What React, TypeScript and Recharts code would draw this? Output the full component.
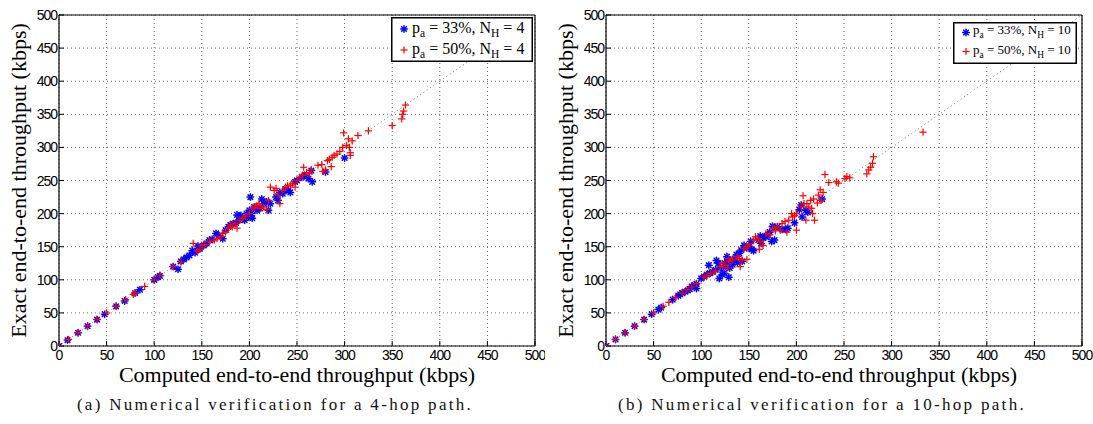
import React from 'react';
import { ScatterChart, Scatter, XAxis, YAxis, CartesianGrid, ReferenceLine, Legend } from 'recharts';

// ---------- shared axis / text data ----------
const AXIS_TICKS = [0, 50, 100, 150, 200, 250, 300, 350, 400, 450, 500];
const AXIS_DOMAIN: [number, number] = [0, 500];
const X_LABEL = 'Computed end-to-end throughput (kbps)';
const Y_LABEL = 'Exact end-to-end throughput (kbps)';
const ATTACK_PROBS = ['33%', '50%'];
const HOP_COUNTS = [4, 10];
const CAPTIONS = [
  '(a) Numerical verification for a 4-hop path.',
  '(b) Numerical verification for a 10-hop path.',
];

// ---------- 4-hop path, p_a = 33% ----------
const hop4P33Computed = [0, 9, 20, 30, 40, 48, 60, 69, 80, 85, 100, 104, 106, 120, 125, 128, 131, 134, 137, 140, 143, 146, 148, 152, 155, 158, 161, 165, 168, 172, 175, 178, 180, 183, 186, 187, 189, 191, 193, 195, 197, 199, 200, 201, 202, 203, 205, 208, 211, 213, 215, 218, 220, 222, 228, 230, 232, 235, 238, 241, 243, 248, 250, 255, 258, 262, 265, 266, 280, 300];
const hop4P33Exact = [0, 9, 20, 30, 40, 48, 60, 68, 80, 85, 100, 104, 106, 120, 116, 128, 131, 134, 137, 144, 141, 151, 147, 152, 155, 160, 161, 170, 167, 162, 175, 180, 183, 185, 186, 198, 190, 197, 192, 190, 200, 195, 205, 225, 200, 193, 210, 205, 208, 222, 215, 218, 205, 215, 225, 220, 232, 230, 237, 235, 232, 248, 250, 255, 258, 253, 265, 248, 263, 284];

// ---------- 4-hop path, p_a = 50% ----------
const hop4P50Computed = [0, 10, 20, 30, 40, 50, 60, 70, 78, 80, 90, 100, 106, 120, 128, 141, 145, 148, 150, 153, 158, 163, 166, 170, 172, 175, 178, 180, 182, 185, 187, 190, 193, 196, 200, 203, 206, 208, 210, 212, 215, 218, 220, 222, 226, 228, 230, 232, 235, 238, 240, 243, 245, 248, 250, 253, 256, 257, 260, 263, 265, 272, 276, 277, 280, 282, 284, 286, 287, 289, 292, 295, 298, 299, 302, 304, 305, 306, 306, 308, 314, 325, 350, 360, 361, 362, 364];
const hop4P50Exact = [0, 10, 20, 30, 40, 50, 60, 70, 78, 80, 90, 100, 107, 120, 127, 155, 143, 146, 152, 153, 158, 160, 162, 165, 170, 172, 178, 183, 180, 185, 178, 190, 193, 196, 200, 208, 210, 212, 215, 208, 210, 206, 220, 240, 235, 238, 228, 215, 235, 240, 242, 243, 245, 240, 250, 255, 258, 270, 262, 260, 266, 273, 274, 264, 266, 280, 282, 271, 285, 288, 290, 294, 300, 322, 303, 313, 300, 292, 288, 310, 318, 325, 333, 343, 350, 355, 364];

// ---------- 10-hop path, p_a = 33% ----------
const hop10P33Computed = [0, 10, 20, 30, 40, 48, 55, 58, 70, 76, 78, 80, 83, 86, 88, 90, 93, 95, 95, 100, 103, 106, 108, 109, 112, 115, 116, 118, 119, 120, 122, 124, 125, 126, 127, 128, 129, 130, 132, 133, 135, 137, 138, 140, 142, 143, 145, 148, 150, 152, 153, 155, 160, 162, 163, 165, 168, 170, 172, 174, 175, 177, 178, 180, 185, 189, 191, 198, 203, 205, 206, 210, 212, 227];
const hop10P33Exact = [0, 10, 20, 30, 40, 48, 55, 58, 70, 76, 78, 80, 82, 84, 86, 90, 92, 94, 87, 102, 105, 108, 122, 110, 112, 115, 129, 125, 102, 118, 108, 110, 125, 120, 135, 130, 104, 118, 128, 123, 132, 138, 126, 140, 145, 128, 152, 148, 150, 158, 146, 144, 160, 166, 155, 163, 165, 168, 172, 158, 181, 160, 178, 180, 176, 176, 178, 186, 206, 213, 195, 205, 202, 222];

// ---------- 10-hop path, p_a = 50% ----------
const hop10P50Computed = [0, 10, 20, 30, 40, 50, 60, 66, 73, 80, 85, 90, 95, 103, 106, 110, 115, 120, 122, 125, 128, 129, 130, 133, 138, 140, 141, 143, 145, 148, 148, 150, 155, 157, 160, 161, 162, 165, 168, 172, 175, 178, 180, 183, 185, 188, 190, 192, 195, 196, 198, 200, 200, 205, 207, 208, 210, 211, 213, 215, 216, 217, 218, 219, 222, 223, 225, 226, 228, 230, 234, 242, 244, 251, 253, 256, 274, 276, 278, 280, 281, 333];
const hop10P50Exact = [0, 10, 20, 30, 40, 50, 60, 66, 73, 80, 85, 89, 94, 104, 106, 110, 113, 120, 125, 122, 118, 132, 128, 130, 135, 132, 120, 130, 147, 131, 150, 152, 160, 165, 162, 146, 158, 152, 170, 168, 178, 174, 180, 175, 185, 188, 172, 190, 200, 195, 197, 175, 200, 210, 227, 215, 190, 215, 210, 220, 208, 200, 222, 190, 216, 228, 236, 220, 232, 259, 247, 248, 246, 253, 256, 254, 260, 266, 270, 276, 286, 323];

const toPoints = (xs: number[], ys: number[]) => xs.map((x, i) => ({ computed: x, exact: ys[i] }));

// ---------- marker shapes ----------
const Asterisk = (props: any) => {
  const { cx, cy } = props;
  if (cx == null || cy == null) return null;
  const r = 3.3;
  const d = r * 0.7071;
  return (
    <g stroke="#0000ff" strokeWidth={1.5} strokeLinecap="round">
      <line x1={cx - r} y1={cy} x2={cx + r} y2={cy} />
      <line x1={cx} y1={cy - r} x2={cx} y2={cy + r} />
      <line x1={cx - d} y1={cy - d} x2={cx + d} y2={cy + d} />
      <line x1={cx - d} y1={cy + d} x2={cx + d} y2={cy - d} />
    </g>
  );
};

const Plus = (props: any) => {
  const { cx, cy } = props;
  if (cx == null || cy == null) return null;
  const r = 3.6;
  return (
    <g stroke="#ff0000" strokeWidth={1.2}>
      <line x1={cx - r} y1={cy} x2={cx + r} y2={cy} />
      <line x1={cx} y1={cy - r} x2={cx} y2={cy + r} />
    </g>
  );
};

// ---------- ticks ----------
const TICK_FONT = 'Liberation Sans, Arial, sans-serif';
const BottomTick = (props: any) => (
  <text x={props.x} y={props.y} dy={12} textAnchor="middle" fontFamily={TICK_FONT} fontSize={14} fill="#000" style={{ letterSpacing: '-1px' }}>
    {props.payload.value}
  </text>
);
const LeftTick = (props: any) => (
  <text x={props.x} y={props.y} dy={5} textAnchor="end" fontFamily={TICK_FONT} fontSize={14} fill="#000" style={{ letterSpacing: '-1px' }}>
    {props.payload.value}
  </text>
);

const SERIF = 'Liberation Serif, Times New Roman, serif';

type LegendCfg = { x: number; y: number; w: number; h: number; font: number; base: number[]; mark: number[]; mx: number; tx: number };

const LegendBox = ({ payload, cfg, hops }: { payload: any[]; cfg: LegendCfg; hops: number }) => {
  const sub = cfg.font * 0.72;
  const shift = cfg.font * 0.28;
  return (
    <svg width={cfg.w} height={cfg.h} style={{ display: 'block' }}>
      <rect x={0.75} y={0.75} width={cfg.w - 1.5} height={cfg.h - 1.5} fill="#fff" stroke="#000" strokeWidth={1.5} />
      {(payload || []).map((entry: any, i: number) => (
        <g key={i}>
          {i === 0 ? <Asterisk cx={cfg.mx} cy={cfg.mark[i]} /> : <Plus cx={cfg.mx} cy={cfg.mark[i]} />}
          <text x={cfg.tx} y={cfg.base[i]} fontFamily={SERIF} fontSize={cfg.font} fill="#000">
            p
            <tspan fontSize={sub} dy={shift}>a</tspan>
            <tspan dy={-shift}>{` = ${ATTACK_PROBS[i]}, N`}</tspan>
            <tspan fontSize={sub} dy={shift}>H</tspan>
            <tspan dy={-shift}>{` = ${hops}`}</tspan>
          </text>
        </g>
      ))}
    </svg>
  );
};

type PanelProps = {
  left: number;
  width: number;
  plotLeft: number;
  plotRight: number;
  blue: { computed: number; exact: number }[];
  red: { computed: number; exact: number }[];
  hops: number;
  caption: string;
  captionX: number;
  xLabelShift: number;
  yLabelX: number;
  legend: LegendCfg;
};

const HEIGHT = 424;
const PLOT_TOP = 15;
const PLOT_BOTTOM = 346;

const Panel = (p: PanelProps) => {
  const xAxisHeight = 40;
  const margin = { top: PLOT_TOP - 1, right: p.width - p.plotRight - 1, bottom: HEIGHT - PLOT_BOTTOM - xAxisHeight, left: 0 };
  const plotMidX = (p.plotLeft + p.plotRight) / 2 + p.xLabelShift;
  const plotMidY = (PLOT_TOP + PLOT_BOTTOM) / 2;
  return (
    <div style={{ position: 'absolute', left: p.left, top: 0 }}>
      <ScatterChart width={p.width} height={HEIGHT} margin={margin}>
        <CartesianGrid xAxisId="b" yAxisId="l" stroke="#666" strokeDasharray="1 3" horizontalValues={AXIS_TICKS} verticalValues={AXIS_TICKS} />
        <XAxis
          xAxisId="b"
          type="number"
          dataKey="computed"
          domain={AXIS_DOMAIN}
          ticks={AXIS_TICKS}
          interval={0}
          allowDataOverflow
          height={xAxisHeight}
          tickSize={-5}
          tickMargin={7}
          axisLine={{ stroke: '#000', strokeWidth: 1.2 }}
          tickLine={{ stroke: '#000' }}
          tick={<BottomTick />}
          label={{
            content: () => (
              <g>
                <text x={plotMidX} y={382} textAnchor="middle" fontFamily={SERIF} fontSize={22} fill="#000">{X_LABEL}</text>
                <text x={p.captionX} y={410} textAnchor="middle" fontFamily={SERIF} fontSize={17} fill="#111" style={{ letterSpacing: '2.3px' }}>{p.caption}</text>
              </g>
            ),
          }}
        />
        <XAxis
          xAxisId="t"
          orientation="top"
          type="number"
          domain={AXIS_DOMAIN}
          ticks={AXIS_TICKS}
          interval={0}
          allowDataOverflow
          height={1}
          tickSize={-5}
          axisLine={{ stroke: '#000', strokeWidth: 1.2 }}
          tickLine={{ stroke: '#000' }}
          tick={false}
        />
        <YAxis
          yAxisId="l"
          type="number"
          dataKey="exact"
          domain={AXIS_DOMAIN}
          ticks={AXIS_TICKS}
          interval={0}
          allowDataOverflow
          width={p.plotLeft}
          tickSize={-5}
          tickMargin={7}
          axisLine={{ stroke: '#000', strokeWidth: 1.2 }}
          tickLine={{ stroke: '#000' }}
          tick={<LeftTick />}
          label={{
            content: () => (
              <text x={p.yLabelX} y={plotMidY} transform={`rotate(-90, ${p.yLabelX}, ${plotMidY})`} textAnchor="middle" fontFamily={SERIF} fontSize={22} fill="#000">
                {Y_LABEL}
              </text>
            ),
          }}
        />
        <YAxis
          yAxisId="r"
          orientation="right"
          type="number"
          domain={AXIS_DOMAIN}
          ticks={AXIS_TICKS}
          interval={0}
          allowDataOverflow
          width={1}
          tickSize={-5}
          axisLine={{ stroke: '#000', strokeWidth: 1.2 }}
          tickLine={{ stroke: '#000' }}
          tick={false}
        />
        <ReferenceLine
          xAxisId="b"
          yAxisId="l"
          segment={[{ x: AXIS_DOMAIN[0], y: AXIS_DOMAIN[0] }, { x: AXIS_DOMAIN[1], y: AXIS_DOMAIN[1] }]}
          stroke="#777"
          strokeDasharray="1 3"
          ifOverflow="hidden"
        />
        <Scatter
          name={`p_a = ${ATTACK_PROBS[0]}, N_H = ${p.hops}`}
          xAxisId="b"
          yAxisId="l"
          data={p.blue}
          fill="#0000ff"
          shape={<Asterisk />}
          isAnimationActive={false}
        />
        <Scatter
          name={`p_a = ${ATTACK_PROBS[1]}, N_H = ${p.hops}`}
          xAxisId="b"
          yAxisId="l"
          data={p.red}
          fill="#ff0000"
          shape={<Plus />}
          isAnimationActive={false}
        />
        <Legend
          layout="vertical"
          verticalAlign="middle"
          align="center"
          content={(props: any) => <LegendBox payload={props.payload} cfg={p.legend} hops={p.hops} />}
          wrapperStyle={{ left: p.legend.x, top: p.legend.y, width: p.legend.w, height: p.legend.h, bottom: 'auto', right: 'auto', margin: 0 }}
        />
      </ScatterChart>
    </div>
  );
};

export default function App() {
  return (
    <div style={{ position: 'absolute', left: 0, top: 0, width: 1093, height: HEIGHT, background: '#fff', overflow: 'hidden' }}>
      <Panel
        left={0}
        width={545}
        plotLeft={59}
        plotRight={535}
        blue={toPoints(hop4P33Computed, hop4P33Exact)}
        red={toPoints(hop4P50Computed, hop4P50Exact)}
        hops={HOP_COUNTS[0]}
        caption={CAPTIONS[0]}
        captionX={275}
        xLabelShift={0}
        yLabelX={26}
        legend={{ x: 391, y: 17, w: 142, h: 45, font: 16, base: [16, 36.5], mark: [12, 33], mx: 13, tx: 21 }}
      />
      <Panel
        left={545}
        width={548}
        plotLeft={61}
        plotRight={537}
        blue={toPoints(hop10P33Computed, hop10P33Exact)}
        red={toPoints(hop10P50Computed, hop10P50Exact)}
        hops={HOP_COUNTS[1]}
        caption={CAPTIONS[1]}
        captionX={277}
        xLabelShift={-5}
        yLabelX={28}
        legend={{ x: 408, y: 22, w: 124, h: 42, font: 13, base: [12, 32], mark: [10.5, 29.5], mx: 13, tx: 20 }}
      />
    </div>
  );
}
